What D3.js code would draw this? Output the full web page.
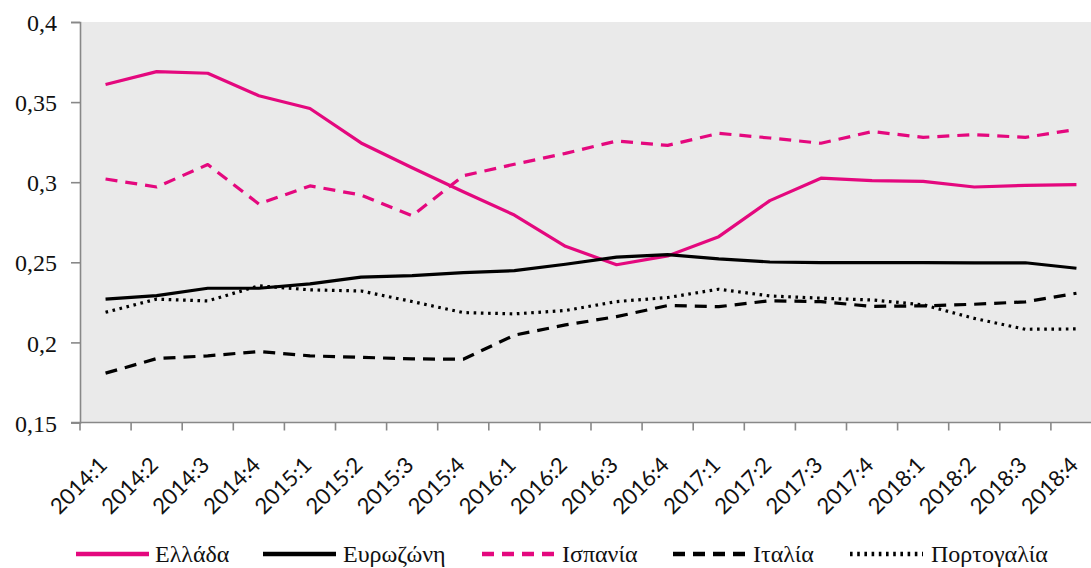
<!DOCTYPE html>
<html><head><meta charset="utf-8">
<script src="https://cdn.jsdelivr.net/npm/d3@7"></script>
<style>body{margin:0;background:#fff}svg{display:block}</style>
</head><body><svg id="c" width="1091" height="568"></svg>
<script>
const categories = ["2014:1","2014:2","2014:3","2014:4","2015:1","2015:2","2015:3","2015:4","2016:1","2016:2","2016:3","2016:4","2017:1","2017:2","2017:3","2017:4","2018:1","2018:2","2018:3","2018:4"];
const greece   = [0.361,0.369,0.368,0.354,0.346,0.3245,0.309,0.294,0.2795,0.260,0.2485,0.254,0.266,0.2885,0.3025,0.301,0.3005,0.297,0.298,0.2985];
const eurozone = [0.227,0.2292,0.2338,0.2338,0.2365,0.2407,0.2417,0.2436,0.2448,0.2488,0.2532,0.2548,0.2521,0.2502,0.2498,0.2498,0.2498,0.2497,0.2497,0.2463];
const spain    = [0.302,0.297,0.311,0.2864,0.2977,0.292,0.279,0.304,0.3112,0.318,0.3257,0.323,0.3305,0.3276,0.3243,0.3316,0.328,0.3297,0.328,0.333];
const italy    = [0.1808,0.1899,0.1916,0.1943,0.1916,0.1907,0.1897,0.1895,0.2045,0.2109,0.2161,0.223,0.2223,0.226,0.2254,0.2225,0.2228,0.2238,0.2253,0.2307];
const portugal = [0.2188,0.227,0.2259,0.2353,0.2328,0.2321,0.2255,0.2186,0.2178,0.2199,0.2255,0.228,0.2332,0.229,0.2276,0.2265,0.2235,0.215,0.2082,0.2084];
const yTicks = [0.15,0.2,0.25,0.3,0.35,0.4];
const seriesNames = ["Ελλάδα","Ευρωζώνη","Ισπανία","Ιταλία","Πορτογαλία"];

const PINK = "#e4087e";
const series = [
  {name:seriesNames[0], values:greece,   color:PINK,   dash:null,      w:3.2},
  {name:seriesNames[1], values:eurozone, color:"#000", dash:null,      w:3.2},
  {name:seriesNames[2], values:spain,    color:PINK,   dash:"12,8",    w:3.2},
  {name:seriesNames[3], values:italy,    color:"#000", dash:"12,8",    w:3.2},
  {name:seriesNames[4], values:portugal, color:"#000", dash:"2.6,4.6", w:3.2}
];

const svg = d3.select("#c");
const mLeft = 80, mTop = 22, mBottom = 422.5, mRight = 80 + 51.1*20;
const x = d3.scaleBand().domain(categories).range([mLeft, mRight]);
const y = d3.scaleLinear().domain([0.15,0.4]).range([mBottom, mTop]);

svg.append("rect").attr("x",mLeft).attr("y",mTop).attr("width",mRight-mLeft).attr("height",mBottom-mTop).attr("fill","#eaeaea");

// y axis
const yAxis = svg.append("g").attr("transform",`translate(${mLeft},0)`)
  .call(d3.axisLeft(y).tickValues(yTicks).tickSize(9).tickPadding(14)
    .tickFormat(d => d3.format(".2~f")(d).replace(".",",")));
yAxis.select(".domain").attr("stroke","#888").attr("stroke-width",1.6);
yAxis.selectAll(".tick line").attr("stroke","#888").attr("stroke-width",1.6);
yAxis.selectAll(".tick text").attr("font-family","'Liberation Serif', serif").attr("font-size",24).attr("fill","#111").attr("dy","0.36em");

// x axis
const xAxis = svg.append("g").attr("transform",`translate(0,${mBottom})`)
  .call(d3.axisBottom(x).tickSize(0).tickPadding(0));
xAxis.select(".domain").attr("stroke","#888").attr("stroke-width",1.6).attr("d",`M${mLeft-9},0H${mRight}`);
xAxis.selectAll(".tick text").remove();
xAxis.selectAll(".tick").each(function(d,i){
  const g = d3.select(this);
  g.append("text")
    .attr("text-anchor","end")
    .attr("font-family","Lato, sans-serif").attr("font-size",22).attr("fill","#111")
    .attr("transform","translate(3,44) rotate(-45)")
    .text(d);
});
const boundaries = d3.range(categories.length+1).map(i => mLeft + x.step()*i);
xAxis.selectAll(".bt").data(boundaries).enter().append("line")
  .attr("x1",d=>d).attr("x2",d=>d).attr("y1",0).attr("y2",8)
  .attr("stroke","#888").attr("stroke-width",1.6);

// lines
const line = d3.line().x((d,i)=>x(categories[i])+x.bandwidth()/2).y(d=>y(d));
series.forEach(s=>{
  svg.append("path").datum(s.values).attr("d",line)
    .attr("fill","none").attr("stroke",s.color).attr("stroke-width",s.w)
    .attr("stroke-linejoin","round")
    .attr("stroke-dasharray",s.dash);
});

// legend
const legendPos = [
  {lx:76, tx:155},{lx:263, tx:343},{lx:482, tx:562},{lx:673, tx:753},{lx:850, tx:931}
];
const ly = 554;
series.forEach((s,i)=>{
  const p = legendPos[i];
  svg.append("line").attr("x1",p.lx).attr("x2",p.lx+73).attr("y1",ly).attr("y2",ly)
    .attr("stroke",s.color).attr("stroke-width",4.5).attr("stroke-dasharray",s.dash);
  svg.append("text").attr("x",p.tx).attr("y",ly).attr("dy","0.33em")
    .attr("font-family","'Liberation Serif', serif").attr("font-size",24).attr("fill","#111")
    .text(s.name);
});
</script></body></html>
